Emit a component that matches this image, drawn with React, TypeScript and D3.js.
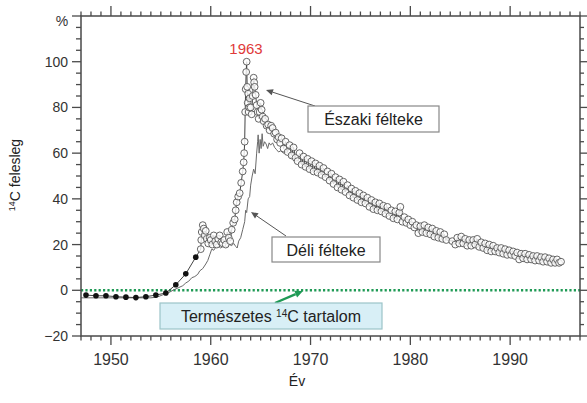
import React from "react";
import * as d3 from "d3";

// Northern hemisphere – early filled points
const earlyYears = [1947.5, 1948.5, 1949.5, 1950.5, 1951.5, 1952.5, 1953.5, 1954.5, 1955.5, 1956.5, 1957.5, 1958.5];
const earlyValues = [-2.1, -2.4, -2.4, -2.8, -3.0, -3.2, -2.8, -2.1, -1.2, 2.4, 7.2, 14.5];

// Northern hemisphere – open circles
const northYears = [
  1959.0, 1959.05, 1959.1, 1959.2, 1959.3, 1959.4, 1959.5, 1959.6, 1959.75, 1959.9,
  1960.0, 1960.15, 1960.3, 1960.45, 1960.6, 1960.75, 1960.9, 1961.05, 1961.2, 1961.35,
  1961.5, 1961.65, 1961.8, 1961.95, 1962.1, 1962.25, 1962.4, 1962.5, 1962.6, 1962.75,
  1962.9, 1963.05, 1963.2, 1963.3, 1963.35, 1963.4, 1963.45, 1963.5, 1963.55, 1963.6,
  1963.65, 1963.7, 1963.75, 1963.8, 1963.85, 1963.9, 1964.0, 1964.1, 1964.2, 1964.3,
  1964.35, 1964.4, 1964.5, 1964.6, 1964.7, 1964.8, 1964.9, 1965.0, 1965.1, 1965.2,
  1965.3, 1965.45, 1965.6, 1965.75, 1965.9, 1966.05, 1966.2, 1966.35, 1966.5, 1966.65,
  1966.8, 1966.95, 1967.1, 1967.3, 1967.5, 1967.7, 1967.9, 1968.1, 1968.3, 1968.5,
  1968.7, 1968.9, 1969.1, 1969.3, 1969.5, 1969.7, 1969.9, 1970.1, 1970.3, 1970.5,
  1970.7, 1970.9, 1971.1, 1971.3, 1971.5, 1971.7, 1971.9, 1972.1, 1972.3, 1972.5,
  1972.7, 1972.9, 1973.1, 1973.3, 1973.5, 1973.7, 1973.9, 1974.1, 1974.3, 1974.5,
  1974.7, 1974.9, 1975.1, 1975.3, 1975.5, 1975.7, 1975.9, 1976.1, 1976.3, 1976.5,
  1976.7, 1976.9, 1977.1, 1977.3, 1977.5, 1977.7, 1977.9, 1978.1, 1978.3, 1978.5,
  1978.7, 1978.9, 1979.0, 1979.2, 1979.4, 1979.6, 1979.8, 1980.0, 1980.2, 1980.4,
  1980.6, 1980.8, 1981.0, 1981.2, 1981.4, 1981.6, 1981.8, 1982.0, 1982.2, 1982.4,
  1982.6, 1982.8, 1983.0, 1983.2, 1983.4, 1983.6, 1984.2, 1984.5, 1984.7, 1984.9,
  1985.1, 1985.3, 1985.5, 1985.7, 1985.9, 1986.1, 1986.3, 1986.5, 1986.7, 1986.9,
  1987.1, 1987.3, 1987.5, 1987.7, 1987.9, 1988.1, 1988.3, 1988.5, 1988.7, 1988.9,
  1989.1, 1989.3, 1989.5, 1989.7, 1989.9, 1990.1, 1990.3, 1990.5, 1990.7, 1990.9,
  1991.1, 1991.3, 1991.5, 1991.7, 1991.9, 1992.1, 1992.3, 1992.5, 1992.7, 1992.9,
  1993.1, 1993.3, 1993.5, 1993.7, 1993.9, 1994.1, 1994.3, 1994.5, 1994.7, 1994.9,
  1995.1,
];
const northValues = [
  18, 22, 25.5, 28.5, 27, 24, 26, 22.5, 20.5, 23,
  22, 20, 24, 21.5, 20, 22.5, 24, 21, 20.5, 22,
  20, 25.5, 23, 21.5, 26.5, 29.5, 31, 35, 38.5, 41,
  42.5, 47, 52, 56, 60, 65, 78, 88, 95.5, 100,
  89, 82, 86, 78, 80, 84, 80, 77, 85, 93,
  91, 89, 85.5, 81, 78, 75, 78, 82, 79, 76,
  74, 75, 72, 72.5, 70, 72, 71, 68.5, 69, 66,
  67, 64.5, 66.5, 62, 65, 60.5, 63.5, 59, 62.5, 58,
  56.5, 60, 55, 58.5, 54, 57.5, 53, 56.5, 52, 55.5,
  51.5, 54.5, 50.5, 53.5, 49.5, 52, 48, 51, 46.5, 49.5,
  45, 48.5, 44, 47.5, 43, 46, 41.5, 44.5, 40.5, 43.5,
  39.5, 42.5, 38.5, 41.5, 38, 40.5, 36.5, 39.5, 35.5, 38.5,
  35, 38, 34.5, 37, 33.5, 36.5, 32.5, 35, 31.5, 34.5,
  31, 34, 36.5, 30, 32, 29.5, 31, 28.5, 30, 27.5,
  28.5, 25, 28, 25.5, 28.5, 25, 27.5, 24.5, 27, 23.5,
  26, 23, 25.5, 22.5, 24.5, 22, 21.5, 20, 23, 20.5,
  23.5, 20.5, 22.5, 19.5, 22, 19.5, 22, 20, 22.5, 19,
  21, 18.5, 20.5, 17.5, 20, 17, 19.5, 17, 18.5, 16.5,
  18.5, 16, 18, 15.5, 17.5, 15.5, 17, 15, 16.5, 13.5,
  16, 14, 16, 13.5, 15.5, 13.5, 15, 13, 15, 13,
  14.5, 12.5, 14.5, 12.5, 14, 12, 13.5, 12, 13.5, 12,
  12.5,
];

// Southern hemisphere line
const southYears = [
  1947.0, 1948.0, 1949.0, 1950.0, 1951.0, 1952.0, 1953.0, 1954.0, 1954.6, 1955.2,
  1955.8, 1956.3, 1956.8, 1957.2, 1957.5, 1957.8, 1958.1, 1958.4, 1958.7, 1958.9,
  1959.2, 1959.5, 1959.7, 1959.9, 1960.1, 1960.3, 1960.5, 1960.8, 1961.0, 1961.3,
  1961.6, 1961.9, 1962.1, 1962.3, 1962.5, 1962.65, 1962.8, 1963.0, 1963.2, 1963.4,
  1963.5, 1963.6, 1963.75, 1963.9, 1964.0, 1964.15, 1964.3, 1964.45, 1964.6, 1964.7,
  1964.75, 1964.85, 1964.95, 1965.05, 1965.15, 1965.25, 1965.4, 1965.55, 1965.7, 1965.85,
  1966.0, 1966.2, 1966.4, 1966.6, 1966.8, 1967.0, 1967.3, 1967.6, 1967.9, 1968.0,
  1968.5, 1969.0, 1969.5, 1970.0, 1970.5, 1971.0, 1971.5, 1972.0, 1972.5, 1973.0,
  1973.5, 1974.0, 1974.5, 1975.0, 1975.5, 1976.0, 1976.5, 1977.0, 1977.5, 1978.0,
  1978.5, 1979.0, 1979.5, 1980.0, 1980.5, 1981.0, 1981.5, 1982.0, 1982.5, 1983.0,
  1983.5, 1984.0, 1984.5, 1985.0, 1985.5, 1986.0, 1986.5, 1987.0, 1987.5, 1988.0,
  1988.5, 1989.0, 1989.5, 1990.0, 1990.5, 1991.0, 1991.5, 1992.0, 1992.5, 1993.0,
  1993.5, 1994.0, 1994.5, 1995.0,
];
const southValues = [
  -3.3, -3.3, -3.3, -3.3, -3.3, -3.3, -3.3, -3.3, -3.0, -2.0,
  -1.0, 0.2, 1.2, 2.0, 3.2, 4.0, 5.5, 6.0, 7.0, 8.5,
  9.5, 11.5, 13, 15.5, 18, 17.5, 18.8, 19.2, 18.5, 19.5,
  19.0, 20.0, 19.5, 20.5, 19.2, 18.5, 21.5, 23, 26.5, 30,
  35, 34, 40, 41, 46, 50, 53, 51, 60, 65,
  68, 60, 66, 62, 68.5, 63, 65, 64, 62, 64.5,
  63.5, 64.5, 62.5, 61.5, 60.5, 61, 60, 60.5, 59, 58,
  57.5, 56, 54.5, 54, 52.5, 51.5, 50, 48.5, 47, 45.5,
  44, 43, 41.5, 40.5, 39, 38, 37, 36, 35, 34,
  33, 32, 31, 29.5, 28, 27, 26.5, 25.5, 25, 24,
  23, 22, 21.5, 21.5, 21, 20.5, 20.5, 20, 19, 18.5,
  18, 17.5, 17, 16.5, 16, 15.5, 15, 14.5, 14, 13.5,
  13.5, 13, 12.5, 12.5,
];

const yTickValues = [-20, 0, 20, 40, 60, 80, 100];
const xTickValues = [1950, 1960, 1970, 1980, 1990];

const W = 587;
const H = 403;
const FONT = "'Liberation Sans', Arial, Helvetica, sans-serif";

function Arrow({ x1, y1, x2, y2, color, width, head }: any) {
  const a = Math.atan2(y2 - y1, x2 - x1);
  const hl = head;
  const hw = head * 0.45;
  const bx = x2 - hl * Math.cos(a);
  const by = y2 - hl * Math.sin(a);
  const p1 = [bx + hw * Math.sin(a), by - hw * Math.cos(a)];
  const p2 = [bx - hw * Math.sin(a), by + hw * Math.cos(a)];
  return (
    <g>
      <line x1={x1} y1={y1} x2={bx} y2={by} stroke={color} strokeWidth={width} />
      <polygon points={`${x2},${y2} ${p1[0]},${p1[1]} ${p2[0]},${p2[1]}`} fill={color} />
    </g>
  );
}

export default function App() {
  const x = d3.scaleLinear().domain([1947, 1997]).range([81, 580]);
  const y = d3.scaleLinear().domain([-20, 120]).range([336, 16]);

  const north = northYears.map((yr, i) => [yr, northValues[i]] as [number, number]);
  const early = earlyYears.map((yr, i) => [yr, earlyValues[i]] as [number, number]);
  const south = southYears.map((yr, i) => [yr, southValues[i]] as [number, number]);

  const line = d3
    .line<[number, number]>()
    .x((d) => x(d[0]))
    .y((d) => y(d[1]));

  const northLine = line([...early, ...north]) || "";
  const southLine = line(south) || "";

  const minorX = d3.range(1947, 1998, 1);
  const minorY = d3.range(-20, 121, 5);
  const axisColor = "#4a4a4a";
  const [x0, x1] = x.range();
  const [yb, yt] = y.range();

  return (
    <svg width={W} height={H} style={{ position: "absolute", left: 0, top: 0, background: "#fff" }} fontFamily={FONT}>
      <rect x={0} y={0} width={W} height={H} fill="#fff" />

      {/* zero line */}
      <line x1={x0} x2={x1} y1={y(0)} y2={y(0)} stroke="#1f9a55" strokeWidth={2.6} strokeDasharray="2.2,2.2" />

      {/* southern */}
      <path d={southLine} fill="none" stroke="#6a6a6a" strokeWidth={1} />
      {/* northern */}
      <path d={northLine} fill="none" stroke="#444" strokeWidth={1} />
      {north.map((d, i) => (
        <circle key={"n" + i} cx={x(d[0])} cy={y(d[1])} r={3.4} fill="#fff" fillOpacity={0.8} stroke="#555" strokeWidth={0.9} />
      ))}
      {early.map((d, i) => (
        <circle key={"e" + i} cx={x(d[0])} cy={y(d[1])} r={2.8} fill="#111" />
      ))}

      {/* frame */}
      <rect x={x0} y={yt} width={x1 - x0} height={yb - yt} fill="none" stroke={axisColor} strokeWidth={1.5} />

      {/* x ticks */}
      {minorX.map((v) => {
        const major = v % 10 === 0;
        return (
          <g key={"xt" + v}>
            <line x1={x(v)} x2={x(v)} y1={yb} y2={yb + (major ? 9 : 4.5)} stroke={axisColor} strokeWidth={1.3} />
            <line x1={x(v)} x2={x(v)} y1={yt} y2={yt - (major ? 10 : 4.5)} stroke={axisColor} strokeWidth={1.3} />
          </g>
        );
      })}
      {xTickValues.map((v) => (
        <text key={"xl" + v} x={x(v)} y={365} textAnchor="middle" fontSize={16} fill="#333">
          {v}
        </text>
      ))}

      {/* y ticks */}
      {minorY.map((v) => {
        const major = v % 20 === 0;
        return (
          <g key={"yt" + v}>
            <line x1={x0} x2={x0 - (major ? 9 : 5)} y1={y(v)} y2={y(v)} stroke={axisColor} strokeWidth={1.3} />
            <line x1={x1} x2={x1 + (major ? 7 : 4)} y1={y(v)} y2={y(v)} stroke={axisColor} strokeWidth={1.3} />
          </g>
        );
      })}
      {yTickValues.map((v) => (
        <text key={"yl" + v} x={68} y={y(v) + 5} textAnchor="end" fontSize={14} fill="#333">
          {v < 0 ? "\u2212" + Math.abs(v) : v}
        </text>
      ))}
      <text x={62} y={26} textAnchor="middle" fontSize={14} fill="#333">%</text>

      {/* axis titles */}
      <text x={297} y={386} textAnchor="middle" fontSize={14} fill="#222">Év</text>
      <text transform="translate(20,175) rotate(-90)" textAnchor="middle" fontSize={14} fill="#222">
        <tspan fontSize={9} dy={-5}>14</tspan>
        <tspan dy={5}>C felesleg</tspan>
      </text>

      {/* 1963 label */}
      <text x={246} y={54} textAnchor="middle" fontSize={15} fill="#e03a3a">1963</text>

      {/* annotations */}
      <Arrow x1={315} y1={106} x2={266} y2={90} color="#555" width={1} head={7} />
      <rect x={308} y={106} width={131} height={26} fill="#fff" stroke="#888" strokeWidth={1.2} />
      <text x={373.5} y={125} textAnchor="middle" fontSize={16} fill="#222">Északi félteke</text>

      <Arrow x1={286} y1={236} x2={251} y2={212} color="#555" width={1} head={7} />
      <rect x={272} y={237} width={108} height={25} fill="#fff" stroke="#888" strokeWidth={1.2} />
      <text x={326} y={255.5} textAnchor="middle" fontSize={16} fill="#222">Déli félteke</text>

      <Arrow x1={275} y1={303} x2={303} y2={291} color="#1f9a55" width={2.4} head={8} />
      <rect x={160} y={303} width={222} height={26} fill="#d8eff6" stroke="#9cc4c8" strokeWidth={1.2} />
      <text x={271} y={321.5} textAnchor="middle" fontSize={16} fill="#222">
        Természetes <tspan fontSize={10} dy={-5}>14</tspan><tspan dy={5}>C tartalom</tspan>
      </text>
    </svg>
  );
}
